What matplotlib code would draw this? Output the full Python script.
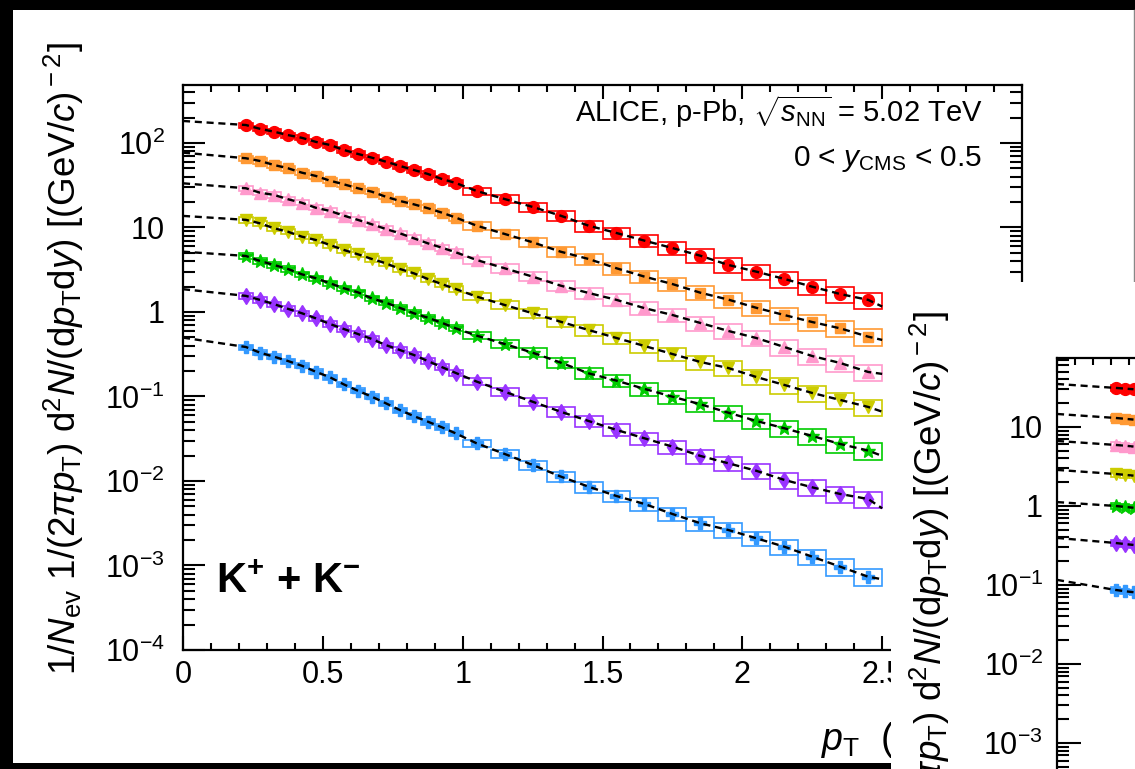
import numpy as np
import matplotlib
matplotlib.use("Agg")
import matplotlib.pyplot as plt
from matplotlib.patches import Rectangle
from matplotlib.lines import Line2D
from matplotlib.ticker import MultipleLocator, FixedLocator, FixedFormatter, LogLocator, NullFormatter, FuncFormatter

plt.rcParams['font.family'] = ['Liberation Sans', 'DejaVu Sans']
plt.rcParams['mathtext.fontset'] = 'custom'
plt.rcParams['mathtext.rm'] = 'Liberation Sans'
plt.rcParams['mathtext.it'] = 'Liberation Sans:italic'
plt.rcParams['mathtext.bf'] = 'Liberation Sans:bold'

# ---- K+ + K- spectra, p-Pb 5.02 TeV, 7 multiplicity classes ----
pt_edges = [0.20, 0.25, 0.30, 0.35, 0.40, 0.45, 0.50, 0.55, 0.60, 0.65, 0.70,
            0.75, 0.80, 0.85, 0.90, 0.95, 1.00, 1.10, 1.20, 1.30, 1.40, 1.50,
            1.60, 1.70, 1.80, 1.90, 2.00, 2.10, 2.20, 2.30, 2.40, 2.50]
sys_rel = [0.07, 0.07, 0.07, 0.07, 0.07, 0.07, 0.07, 0.07, 0.07, 0.07, 0.07,
           0.07, 0.08, 0.08, 0.08, 0.08, 0.10, 0.11, 0.12, 0.13, 0.15, 0.16,
           0.17, 0.18, 0.19, 0.20, 0.20, 0.21, 0.21, 0.22, 0.22]

k_0_5 = [163, 147, 136, 124, 115, 103, 94.7, 82.6, 74.2, 67.0, 60.1, 53.5, 47.9, 43.0, 37.5, 33.6,
         27.0, 21.7, 17.5, 13.8, 10.5, 8.6, 6.98, 5.71, 4.63, 3.60, 3.00, 2.46, 1.99, 1.63, 1.39]
k_5_10 = [65.9, 61.2, 54.9, 50.2, 44.5, 40.7, 35.8, 32.4, 29.1, 26.5, 23.1, 20.6, 18.8, 16.9, 15.0, 13.1,
          10.5, 8.38, 6.68, 5.17, 4.24, 3.29, 2.62, 2.14, 1.69, 1.40, 1.12, 0.92, 0.76, 0.64, 0.51]
k_10_20 = [29.1, 25.8, 24.3, 21.6, 19.6, 17.1, 15.7, 13.8, 12.3, 10.9, 9.60, 8.53, 7.45, 6.50, 5.77, 5.09,
           4.12, 3.29, 2.62, 2.05, 1.68, 1.39, 1.11, 0.921, 0.741, 0.596, 0.492, 0.385, 0.301, 0.249, 0.195]
k_20_40 = [12.3, 11.2, 9.79, 8.91, 7.78, 7.11, 6.21, 5.42, 4.82, 4.24, 3.77, 3.23, 2.87, 2.46, 2.14, 1.87,
           1.52, 1.21, 0.966, 0.767, 0.612, 0.492, 0.396, 0.318, 0.256, 0.217, 0.170, 0.137, 0.110, 0.0910, 0.0752]
k_40_60 = [4.60, 4.02, 3.60, 3.23, 2.79, 2.51, 2.19, 1.91, 1.71, 1.45, 1.29, 1.12, 0.966, 0.857, 0.746, 0.641,
           0.525, 0.418, 0.330, 0.252, 0.188, 0.154, 0.123, 0.0995, 0.0809, 0.0643, 0.0513, 0.0421, 0.0341, 0.0274, 0.0229]
k_60_80 = [1.55, 1.39, 1.24, 1.09, 0.966, 0.841, 0.721, 0.629, 0.549, 0.479, 0.406, 0.355, 0.310, 0.263, 0.223, 0.190,
           0.150, 0.114, 0.0867, 0.0661, 0.0513, 0.0402, 0.0320, 0.0255, 0.0198, 0.0162, 0.0132, 0.0103, 0.00841, 0.00702, 0.00612]
k_80_100 = [0.385, 0.330, 0.296, 0.263, 0.231, 0.196, 0.169, 0.139, 0.117, 0.0995, 0.0832, 0.0692, 0.0587, 0.0504, 0.0433, 0.0366,
            0.0279, 0.0209, 0.0155, 0.0113, 0.00857, 0.00664, 0.00535, 0.00407, 0.00316, 0.00263, 0.00210, 0.00167, 0.00127, 0.000968, 0.000736]
# fit curves (dashed): value at pT = 0 and at pT = 2.5
k_fit_0 = [182, 76.8, 33.3, 13.7, 5.17, 1.86, 0.497]
k_fit_end = [1.16, 0.467, 0.185, 0.0661, 0.0198, 0.00475, 0.000687]

# ---- second (overlapping) window: only the first bins are visible ----
p_edges = [0.30, 0.35, 0.40, 0.45]
p_sys = [0.08, 0.08, 0.08]
p_0_5 = [31.2, 30.6, 30.0]
p_5_10 = [13.0, 12.7, 12.4]
p_10_20 = [5.92, 5.80, 5.65]
p_20_40 = [2.54, 2.48, 2.42]
p_40_60 = [1.00, 0.975, 0.95]
p_60_80 = [0.340, 0.330, 0.321]
p_80_100 = [0.0865, 0.0835, 0.081]
p_fit_0 = [35.0, 14.6, 6.65, 2.86, 1.12, 0.394, 0.116]

colors = ['#ff0000', '#ff9933', '#ff99cc', '#cccc00', '#00cc00', '#9933ff', '#3399ff']
markers = ['o', 's', '^', 'v', '*', 'd', 'P']
msizes = [8.5, 7.5, 8, 8, 10.5, 8.5, 8.5]

W, H = 1135, 769
fig = plt.figure(figsize=(W / 100, H / 100), dpi=100)
fig.patch.set_facecolor('black')
fx = lambda x: x / W
fy = lambda y: 1 - y / H


def px_rect(x0, y0, x1, y1, color, z):
    r = Rectangle((fx(x0), fy(y1)), fx(x1) - fx(x0), fy(y0) - fy(y1),
                  transform=fig.transFigure, facecolor=color, edgecolor='none', zorder=z)
    fig.add_artist(r)


def draw_spectra(ax, edges, series, fit0, fit_end, sys):
    centers = [(a + b) / 2 for a, b in zip(edges[:-1], edges[1:])]
    for i, vals in enumerate(series):
        col = colors[i]
        for lo, hi, v, s in zip(edges[:-1], edges[1:], vals, sys):
            ax.add_patch(Rectangle((lo, v * (1 - s)), hi - lo, 2 * s * v, fill=False,
                                   edgecolor=col, lw=1.2, zorder=2))
        ax.plot(centers, vals, ls='none', marker=markers[i], color=col, ms=msizes[i],
                mec=col, zorder=3)
        fx_ = [0.0] + centers
        fy_ = [fit0[i]] + list(vals)
        if fit_end is not None:
            fx_ = fx_ + [edges[-1]]
            fy_ = fy_ + [fit_end[i]]
        ax.plot(fx_, fy_, color='black', ls=(0, (3, 2)), lw=1.7, zorder=4)


def root_style(ax, ylab_ticks, ylab_text, ymaj_len, yminor_len, xmaj_len, xminor_len, ypad):
    ax.set_yscale('log')
    ax.xaxis.set_major_locator(MultipleLocator(0.5))
    ax.xaxis.set_minor_locator(MultipleLocator(0.1))
    ax.xaxis.set_major_formatter(FuncFormatter(lambda v, p: '%g' % v))
    ax.yaxis.set_major_locator(FixedLocator(ylab_ticks))
    ax.yaxis.set_major_formatter(FixedFormatter(ylab_text))
    ax.yaxis.set_minor_locator(LogLocator(base=10, subs=np.arange(2, 10), numticks=30))
    ax.yaxis.set_minor_formatter(NullFormatter())
    ax.tick_params(which='both', direction='in', top=True, right=True, width=1.5,
                   labelsize=22, colors='black')
    ax.tick_params(axis='y', which='major', length=ymaj_len, pad=ypad)
    ax.tick_params(axis='y', which='minor', length=yminor_len)
    ax.tick_params(axis='x', which='major', length=xmaj_len, pad=7)
    ax.tick_params(axis='x', which='minor', length=xminor_len)
    for s in ax.spines.values():
        s.set_linewidth(1.6)


# main window background and frame
px_rect(13, 10, 1135, 763, 'white', -1)
fig.add_artist(Line2D([fx(1133.5), fx(1133.5)], [fy(10), fy(282)], transform=fig.transFigure,
                      color='#888888', lw=1, zorder=-0.5))

ax = fig.add_axes([fx(183), fy(650), (1022 - 183) / W, (650 - 85) / H])
ax.set_zorder(0)
ax.set_xlim(0, 3)
ax.set_ylim(1e-4, 485)
draw_spectra(ax, pt_edges, [k_0_5, k_5_10, k_10_20, k_20_40, k_40_60, k_60_80, k_80_100],
             k_fit_0, k_fit_end, sys_rel)
root_style(ax, [1e-4, 1e-3, 1e-2, 1e-1, 1, 10, 100],
           ['$10^{-4}$', '$10^{-3}$', '$10^{-2}$', '$10^{-1}$', '1', '10', '$10^{2}$'],
           16, 8.5, 10, 5, 13)

fig.text(fx(983), fy(122), r'ALICE, p-Pb, $\sqrt{s_{\rm NN}}$ = 5.02 TeV',
         ha='right', va='baseline', fontsize=21, zorder=0.5)
fig.text(fx(982), fy(166), r'0 < $y_{\rm CMS}$ < 0.5',
         ha='right', va='baseline', fontsize=21.5, zorder=0.5)
fig.text(fx(216), fy(582), r'K$^{\mathbf{+}}$ + K$^{\mathbf{-}}$',
         ha='left', va='center', fontsize=30, fontweight='bold', zorder=0.5)

ylabel = (r'1/$N_{\rm ev}$ 1/(2$\pi p_{\rm T}$) d$^{2}$$N$/(d$p_{\rm T}$d$y$) '
          r'[(GeV/$c$)$^{\rm -2}$]')
fig.text(fx(64), fy(359), ylabel, rotation=90, ha='center', va='center', fontsize=26.5, zorder=0.5)
fig.text(fx(821), fy(740), r'$p_{\rm T}$  (GeV/$c$)', ha='left', va='center', fontsize=27, zorder=0.5)

# black band at the bottom of the main window
px_rect(0, 763, 891, 769, 'black', 1.5)

# overlapping second window
px_rect(891, 282, 1135, 769, 'white', 2)
fig.text(fx(930), fy(311), ylabel, rotation=90, ha='center', va='top', fontsize=26.5, zorder=4)

ax2 = fig.add_axes([fx(1057), fy(822), 540 / W, (822 - 358) / H])
ax2.set_zorder(3)
ax2.set_xlim(0, 3)
ax2.set_ylim(1e-4, 74.6)
draw_spectra(ax2, p_edges, [p_0_5, p_5_10, p_10_20, p_20_40, p_40_60, p_60_80, p_80_100],
             p_fit_0, None, p_sys)
root_style(ax2, [1e-4, 1e-3, 1e-2, 1e-1, 1, 10],
           ['$10^{-4}$', '$10^{-3}$', '$10^{-2}$', '$10^{-1}$', '1', '10'],
           17, 8.5, 10, 5, 10)

fig.savefig('out.png', dpi=100, facecolor=fig.get_facecolor())
